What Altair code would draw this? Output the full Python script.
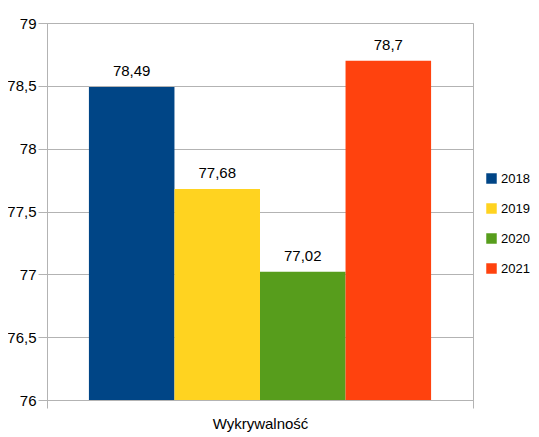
import altair as alt
import pandas as pd

category = "Wykrywalność"
years = ["2018", "2019", "2020", "2021"]
values = [78.49, 77.68, 77.02, 78.7]
colors = ["#004586", "#ffd320", "#579d1c", "#ff420e"]
y_ticks = [76, 76.5, 77, 77.5, 78, 78.5, 79]

df = pd.DataFrame({"cat": [category] * len(years), "year": years, "value": values})

FONT = "Liberation Sans"
GRID = "#b3b3b3"

base = alt.Chart(df).transform_calculate(
    label="replace(toString(datum.value), '.', ',')"
).encode(
    x=alt.X("cat:N", title=None,
            scale=alt.Scale(paddingInner=0, paddingOuter=0),
            axis=alt.Axis(tickBand="extent", tickSize=8, tickColor=GRID,
                          domainColor=GRID, labelFontSize=15, labelFont=FONT,
                          labelColor="#000000", labelPadding=8, labelAngle=0,
                          grid=False)),
    xOffset=alt.XOffset("year:N", sort=years,
                        scale=alt.Scale(paddingInner=0, paddingOuter=0.49)),
    y=alt.Y("value:Q", title=None,
            scale=alt.Scale(domain=[76, 79], nice=False, zero=False),
            axis=alt.Axis(values=y_ticks, grid=True, gridColor=GRID,
                          domainColor=GRID, tickColor=GRID, tickSize=9,
                          labelPadding=2, labelFontSize=15, labelFont=FONT,
                          labelColor="#000000",
                          labelExpr="replace(toString(datum.value), '.', ',')")),
)

bars = base.mark_bar(clip=True).encode(
    color=alt.Color("year:N", sort=years,
                    scale=alt.Scale(domain=years, range=colors),
                    legend=alt.Legend(title=None, orient="none", legendX=438,
                                      legendY=149, symbolType="square",
                                      symbolSize=110, symbolStrokeWidth=0,
                                      labelFontSize=13, labelFont=FONT,
                                      labelColor="#000000", labelOffset=3,
                                      rowPadding=16, padding=0))
)

texts = base.mark_text(baseline="alphabetic", dy=-11, fontSize=15,
                       font=FONT, color="#000000").encode(text="label:N")

chart = alt.layer(bars, texts).properties(
    width=426, height=377,
    autosize=alt.AutoSizeParams(type="none"),
    padding={"left": 39, "top": 15, "right": 58, "bottom": 33},
).configure_view(stroke=GRID)

chart.save("out.html", embed_options={"renderer": "svg", "actions": False})
